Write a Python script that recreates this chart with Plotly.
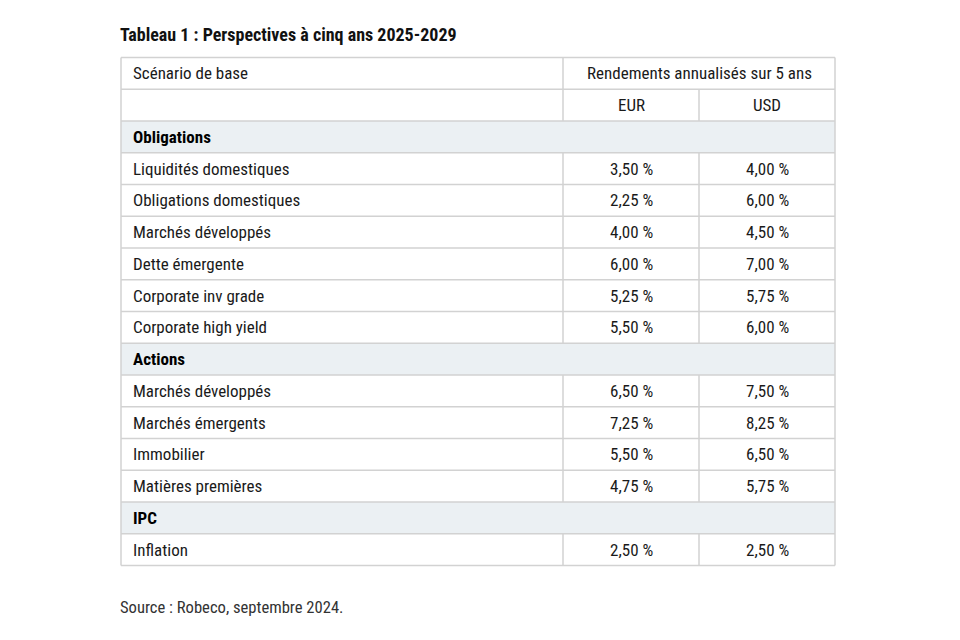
import plotly.graph_objects as go

# ---- data ----
title = "Tableau 1 : Perspectives à cinq ans 2025-2029"
source = "Source : Robeco, septembre 2024."
header_left = "Scénario de base"
header_right = "Rendements annualisés sur 5 ans"
currencies = ["EUR", "USD"]

sections = ["Obligations", "Actions", "IPC"]
obligations = ["Liquidités domestiques", "Obligations domestiques", "Marchés développés",
               "Dette émergente", "Corporate inv grade", "Corporate high yield"]
obligations_eur = [3.50, 2.25, 4.00, 6.00, 5.25, 5.50]
obligations_usd = [4.00, 6.00, 4.50, 7.00, 5.75, 6.00]
actions = ["Marchés développés", "Marchés émergents", "Immobilier", "Matières premières"]
actions_eur = [6.50, 7.25, 5.50, 4.75]
actions_usd = [7.50, 8.25, 6.50, 5.75]
ipc = ["Inflation"]
ipc_eur = [2.50]
ipc_usd = [2.50]

# ---- layout constants ----
W, H = 960, 640
OFF = 8  # page body offset
X0, X1, X2, X3 = 121, 563, 699, 835
TOP = 57.5
ROW_H = 31.75
PAD = 10
LINE = "#d2d2d2"
SECT_FILL = "#ebf0f3"
FONT = "Roboto Condensed, Liberation Sans Narrow, DejaVu Sans Condensed, Roboto, sans-serif"
TXT = "#1a1a1a"
FS = 17

def fmt(v):
    return f"{v:.2f}".replace(".", ",") + " %"

rows = [("header1", header_left, header_right, ""),
        ("header2", "", currencies[0], currencies[1])]
for name, labels, e, u in [(sections[0], obligations, obligations_eur, obligations_usd),
                           (sections[1], actions, actions_eur, actions_usd),
                           (sections[2], ipc, ipc_eur, ipc_usd)]:
    rows.append(("section", name, "", ""))
    for lab, ve, vu in zip(labels, e, u):
        rows.append(("data", lab, fmt(ve), fmt(vu)))

shapes = []
annotations = []
n = len(rows)
for i, (kind, a, b, c) in enumerate(rows):
    y0 = TOP + i * ROW_H
    y1 = y0 + ROW_H
    ym = (y0 + y1) / 2
    if kind == "section":
        shapes.append(dict(type="rect", xref="x", yref="y", x0=X0, x1=X3, y0=y0, y1=y1,
                           fillcolor=SECT_FILL, line=dict(width=0), layer="below"))
    if kind in ("header2", "data"):
        for xv in (X1, X2):
            shapes.append(dict(type="line", xref="x", yref="y", x0=xv, x1=xv, y0=y0, y1=y1,
                               line=dict(color=LINE, width=1.5)))
    elif kind == "header1":
        shapes.append(dict(type="line", xref="x", yref="y", x0=X1, x1=X1, y0=y0, y1=y1,
                           line=dict(color=LINE, width=1.5)))
    shapes.append(dict(type="line", xref="x", yref="y", x0=X0, x1=X3, y0=y0, y1=y0,
                       line=dict(color=LINE, width=1.5)))
    bold = kind == "section"
    if a:
        annotations.append(dict(x=X0 + PAD, y=ym, xref="x", yref="y", text=f"<b>{a}</b>" if bold else a,
                                xanchor="left", yanchor="middle", showarrow=False,
                                font=dict(family=FONT, size=FS, color="#000" if bold else TXT)))
    if kind == "header1":
        annotations.append(dict(x=(X1 + X3) / 2, y=ym, xref="x", yref="y", text=b,
                                xanchor="center", yanchor="middle", showarrow=False,
                                font=dict(family=FONT, size=FS, color=TXT)))
    else:
        if b:
            annotations.append(dict(x=(X1 + X2) / 2, y=ym, xref="x", yref="y", text=b,
                                    xanchor="center", yanchor="middle", showarrow=False,
                                    font=dict(family=FONT, size=FS, color=TXT)))
        if c:
            annotations.append(dict(x=(X2 + X3) / 2, y=ym, xref="x", yref="y", text=c,
                                    xanchor="center", yanchor="middle", showarrow=False,
                                    font=dict(family=FONT, size=FS, color=TXT)))

bottom = TOP + n * ROW_H
shapes.append(dict(type="line", xref="x", yref="y", x0=X0, x1=X3, y0=bottom, y1=bottom,
                   line=dict(color=LINE, width=1.5)))
for xv in (X0, X3):
    shapes.append(dict(type="line", xref="x", yref="y", x0=xv, x1=xv, y0=TOP, y1=bottom,
                       line=dict(color=LINE, width=1.5)))

annotations.append(dict(x=X0 - 3, y=34, xref="x", yref="y", text=f"<b>{title}</b>",
                        xanchor="left", yanchor="middle", showarrow=False,
                        font=dict(family=FONT, size=18, color="#111")))
annotations.append(dict(x=X0 - 3, y=607, xref="x", yref="y", text=source,
                        xanchor="left", yanchor="middle", showarrow=False,
                        font=dict(family=FONT, size=16.6, color="#333")))

fig = go.Figure()
fig.add_trace(go.Scatter(x=[OFF, W + OFF], y=[OFF, H + OFF], mode="markers", marker=dict(opacity=0),
                         hoverinfo="skip", showlegend=False))
fig.update_layout(
    width=W, height=H, margin=dict(l=0, r=0, t=0, b=0),
    paper_bgcolor="white", plot_bgcolor="white",
    xaxis=dict(range=[OFF, W + OFF], visible=False, fixedrange=True),
    yaxis=dict(range=[H + OFF, OFF], visible=False, fixedrange=True),
    shapes=shapes, annotations=annotations, showlegend=False,
)
fig.write_html("out.html")
